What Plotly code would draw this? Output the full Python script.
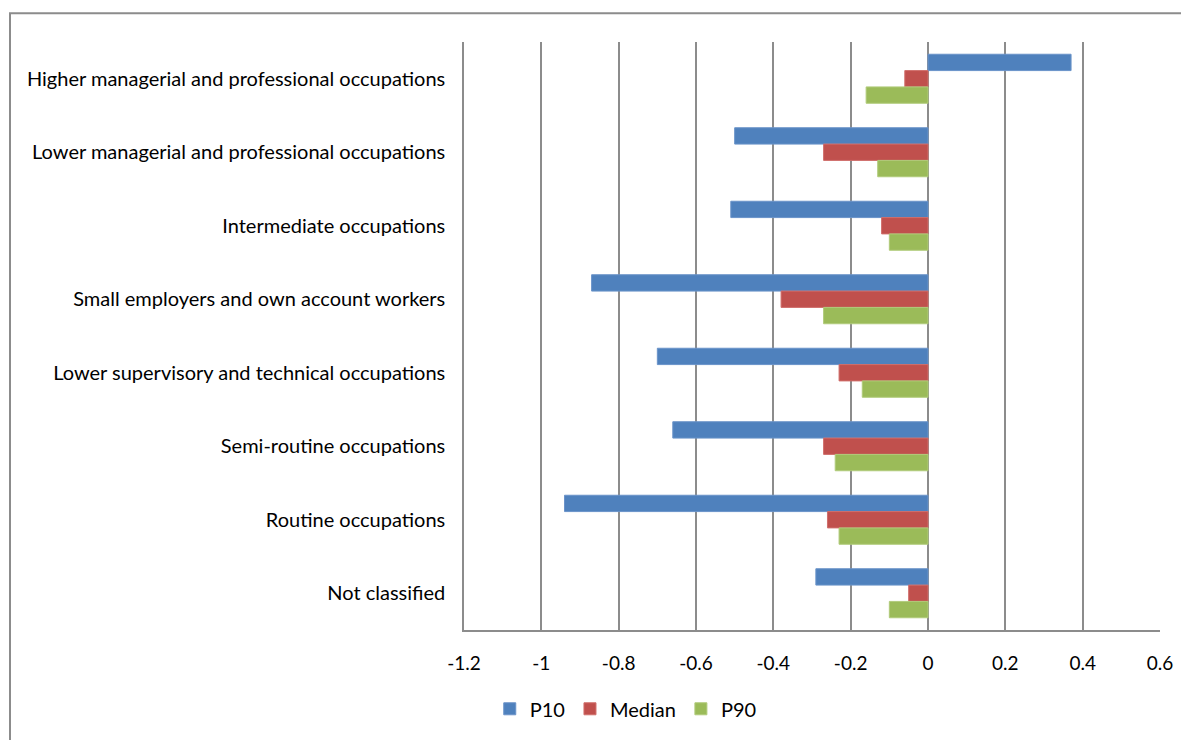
import plotly.graph_objects as go

categories = [
    "Higher managerial and professional occupations",
    "Lower managerial and professional occupations",
    "Intermediate occupations",
    "Small employers and own account workers",
    "Lower supervisory and technical occupations",
    "Semi-routine occupations",
    "Routine occupations",
    "Not classified",
]
p10 = [0.37, -0.50, -0.51, -0.87, -0.70, -0.66, -0.94, -0.29]
median = [-0.06, -0.27, -0.12, -0.38, -0.23, -0.27, -0.26, -0.05]
p90 = [-0.16, -0.13, -0.10, -0.27, -0.17, -0.24, -0.23, -0.10]
x_ticks = [-1.2, -1, -0.8, -0.6, -0.4, -0.2, 0, 0.2, 0.4, 0.6]

series = [("P10", p10, "#4F81BD", "#6A93C9"),
          ("Median", median, "#C0504D", "#D06E6B"),
          ("P90", p90, "#9BBB59", "#B0CB7A")]

fig = go.Figure()
for name, vals, col, edge in series:
    fig.add_trace(go.Bar(
        y=categories, x=vals, name=name, orientation="h",
        marker=dict(color=col, line=dict(color=edge, width=1)),
    ))

font_family = "Lato, Open Sans, sans-serif"
fig.update_layout(
    width=1181, height=732,
    margin=dict(l=456, r=29, t=34, b=107),
    paper_bgcolor="white", plot_bgcolor="white",
    barmode="group", bargap=0.333, bargroupgap=0,
    font=dict(family=font_family, size=19, color="black"),
    showlegend=True,
    legend=dict(orientation="h", x=0.037, xanchor="left", y=-0.134, yanchor="middle",
                font=dict(size=20), traceorder="normal", itemwidth=30),
    xaxis=dict(range=[-1.2, 0.6], tickvals=x_ticks,
               ticktext=[f"{v:g}" for v in x_ticks],
               tickfont=dict(size=19),
               showgrid=True, gridcolor="#8C8C8C", gridwidth=1.5,
               zeroline=True, zerolinecolor="#8C8C8C", zerolinewidth=1.5,
               showline=True, linecolor="#8C8C8C", linewidth=1.5,
               ticks="", ticklabelstandoff=15, fixedrange=True),
    yaxis=dict(autorange="reversed", showgrid=False, showline=True,
               linecolor="#8C8C8C", linewidth=1.5, ticks="",
               tickfont=dict(size=20),
               ticklabelstandoff=13, fixedrange=True),
)
# chart border
fig.add_shape(type="rect", xref="paper", yref="paper",
              x0=(10 - 464) / 696, x1=(1195 - 464) / 696,
              y0=(633 - 760) / 591, y1=(633 - 13) / 591,
              line=dict(color="#8C8C8C", width=2), layer="below")

fig.write_html("out.html")
